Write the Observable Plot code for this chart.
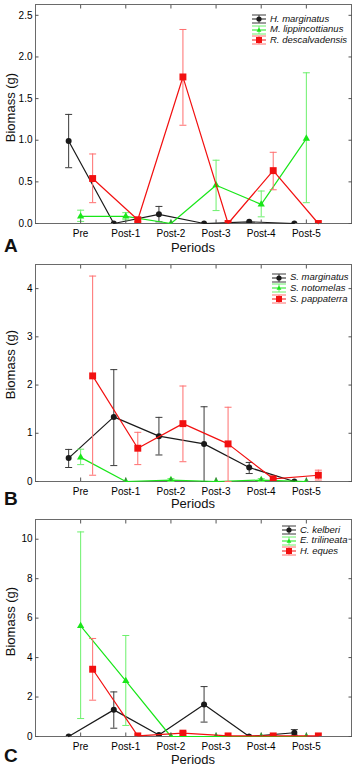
<!DOCTYPE html>
<html>
<head>
<meta charset="utf-8">
<script src="https://cdn.jsdelivr.net/npm/d3@7"></script>
<script src="https://cdn.jsdelivr.net/npm/@observablehq/plot@0.6"></script>
<style>
  html, body { margin: 0; padding: 0; background: #fff; }
  #chart { width: 360px; }
  .panel { position: relative; width: 360px; }
  .panel svg { position: absolute; left: 0; top: 0; }
  .ov { position: absolute; font-family: "Liberation Sans", Arial, sans-serif; color: #111; white-space: nowrap; }
  .letter { font-size: 19px; font-weight: bold; line-height: 19px; }
  .xlab { font-size: 13px; line-height: 13px; text-align: center; }
  .ylab { font-size: 13px; line-height: 13px; text-align: center; width: 200px; transform: rotate(-90deg); transform-origin: 50% 50%; }
  .leg { font-size: 9.5px; font-style: italic; line-height: 10.7px; }
  .leg div { height: 10.7px; display: flex; align-items: center; }
  .leg svg { position: static; margin-right: 4px; }
</style>
</head>
<body>
<div id="chart"></div>
<script>
// ---------- data ----------
const periods = ["Pre", "Post-1", "Post-2", "Post-3", "Post-4", "Post-5"];

// Panel A
const speciesA = ["H. marginatus", "M. lippincottianus", "R. descalvadensis"];
const aHmargMean = [0.99, 0.00, 0.11, 0.00, 0.02, 0.00];
const aHmargLo   = [0.67, null, 0.02, null, null, null];
const aHmargHi   = [1.31, null, 0.205, null, null, null];
const aMlipMean  = [0.085, 0.085, 0.00, 0.46, 0.23, 1.02];
const aMlipLo    = [0.025, 0.045, null, 0.155, 0.08, 0.25];
const aMlipHi    = [0.16, 0.13, null, 0.76, 0.39, 1.81];
const aRdesMean  = [0.54, 0.045, 1.76, 0.00, 0.635, 0.00];
const aRdesLo    = [0.25, 0.02, 1.18, null, 0.405, null];
const aRdesHi    = [0.835, 0.065, 2.33, null, 0.855, null];
const aYTicks = [0, 0.5, 1.0, 1.5, 2.0, 2.5];

// Panel B
const speciesB = ["S. marginatus", "S. notomelas", "S. pappaterra"];
const bSmargMean = [0.485, 1.34, 0.94, 0.78, 0.29, 0.00];
const bSmargLo   = [0.29, 0.33, 0.55, 0.00, 0.165, null];
const bSmargHi   = [0.665, 2.32, 1.33, 1.55, 0.395, null];
const bSnotMean  = [0.50, 0.00, 0.03, 0.00, 0.03, 0.00];
const bSnotLo    = [0.35, null, 0.00, null, 0.00, null];
const bSnotHi    = [0.67, null, 0.06, null, 0.06, null];
const bSpapMean  = [2.19, 0.69, 1.20, 0.78, 0.055, 0.13];
const bSpapLo    = [0.13, 0.35, 0.41, 0.00, null, 0.03];
const bSpapHi    = [4.26, 1.02, 1.98, 1.54, null, 0.235];
const bYTicks = [0, 1, 2, 3, 4];

// Panel C
const speciesC = ["C. kelberi", "E. trilineata", "H. eques"];
const cCkelMean = [0.00, 1.35, 0.08, 1.62, 0.00, 0.19];
const cCkelLo   = [null, 0.42, null, 0.73, null, 0.07];
const cCkelHi   = [null, 2.26, null, 2.53, null, 0.35];
const cEtriMean = [5.61, 2.82, 0.00, 0.00, 0.00, 0.00];
const cEtriLo   = [0.91, 0.56, null, null, null, null];
const cEtriHi   = [10.37, 5.12, null, null, null, null];
const cHeqMean  = [3.41, 0.03, 0.17, 0.03, 0.03, 0.03];
const cHeqLo    = [1.84, null, 0.07, null, null, null];
const cHeqHi    = [4.97, null, 0.25, null, null, null];
const cYTicks = [0, 2, 4, 6, 8, 10];

// ---------- styles ----------
const styles = [
  {color: "#1a1a1a", err: "#3a3a3a", symbol: "circle", r: 3.0, dx: -12},
  {color: "#19e619", err: "#6cf06c", symbol: "triangle", r: 2.7, dx: 0},
  {color: "#f21010", err: "#ff6e6e", symbol: "square", r: 3.9, dx: 12}
];
const cap = {draw(ctx, size) { const r = Math.sqrt(size / Math.PI); ctx.moveTo(-r, 0); ctx.lineTo(r, 0); }};

function legendSymbol(st) {
  const shape = st.symbol === "circle" ? `<circle cx="7" cy="5" r="2.6" fill="${st.color}"/>`
    : st.symbol === "square" ? `<rect x="4" y="2" width="6" height="6" fill="${st.color}"/>`
    : `<path d="M7,2.4L9.4,6.8L4.6,6.8Z" fill="${st.color}"/>`;
  return `<svg width="14" height="10" viewBox="0 0 14 10">
    <line x1="0" x2="14" y1="1" y2="1" stroke="${st.err}" stroke-width="1"/>
    <line x1="0" x2="14" y1="9" y2="9" stroke="${st.err}" stroke-width="1"/>
    <line x1="7" x2="7" y1="1" y2="9" stroke="${st.err}" stroke-width="1"/>
    <line x1="0" x2="14" y1="5" y2="5" stroke="${st.color}" stroke-width="1"/>
    ${shape}</svg>`;
}

function panel(cfg) {
  const wrap = document.createElement("div");
  wrap.className = "panel";
  wrap.style.height = cfg.height + "px";
  const marks = [Plot.frame({stroke: "#6a6a6a"})];
  cfg.series.forEach((s, k) => {
    const st = styles[k];
    const rows = periods.map((p, i) => ({i, mean: s.mean[i], lo: s.lo[i], hi: s.hi[i]}));
    const bars = rows.filter(d => d.lo != null);
    marks.push(
      Plot.ruleX(bars, {x: "i", y1: "lo", y2: "hi", dx: st.dx, stroke: st.err, strokeWidth: 1}),
      Plot.dot(bars, {x: "i", y: "lo", dx: st.dx, symbol: cap, r: 3.5, stroke: st.err, fill: "none", strokeWidth: 1}),
      Plot.dot(bars, {x: "i", y: "hi", dx: st.dx, symbol: cap, r: 3.5, stroke: st.err, fill: "none", strokeWidth: 1}),
      Plot.line(rows, {x: "i", y: "mean", dx: st.dx, stroke: st.color, strokeWidth: 1.2}),
      Plot.dot(rows, {x: "i", y: "mean", dx: st.dx, symbol: st.symbol, r: st.r, fill: st.color, stroke: "none", clip: "frame"})
    );
  });
  const idx = periods.map((p, i) => i);
  marks.push(
    Plot.axisX({ticks: idx, tickFormat: i => periods[i], tickSize: -3.5, tickPadding: 9.5, label: null, stroke: "#555"}),
    Plot.axisX({anchor: "top", ticks: idx, tickFormat: () => "", tickSize: -3.5, label: null, stroke: "#555"}),
    Plot.axisY({ticks: cfg.yTicks, tickFormat: cfg.yFormat, tickSize: -3.5, tickPadding: 6.5, label: null, stroke: "#555"}),
    Plot.axisY({anchor: "right", ticks: cfg.yTicks, tickFormat: () => "", tickSize: -3.5, label: null, stroke: "#555"})
  );
  const svg = Plot.plot({
    width: 360, height: cfg.height,
    marginLeft: 35, marginRight: 9, marginTop: cfg.marginTop, marginBottom: cfg.marginBottom,
    x: {domain: [-1, 6], axis: null},
    y: {domain: cfg.yDomain, axis: null},
    style: {fontFamily: '"Liberation Sans Narrow", "Liberation Sans", Arial, sans-serif', fontSize: "10px", color: "#000", background: "transparent"},
    marks
  });
  wrap.appendChild(svg);
  const frameBottom = cfg.height - cfg.marginBottom;
  const L = document.createElement("div");
  L.className = "ov letter"; L.textContent = cfg.letter;
  L.style.left = "4px"; L.style.top = (frameBottom + cfg.letterDy) + "px";
  wrap.appendChild(L);
  const X = document.createElement("div");
  X.className = "ov xlab"; X.textContent = "Periods";
  X.style.left = "35px"; X.style.width = "316px"; X.style.top = (frameBottom + cfg.xlabDy) + "px";
  wrap.appendChild(X);
  const Y = document.createElement("div");
  Y.className = "ov ylab"; Y.textContent = "Biomass (g)";
  Y.style.left = (9.5 - 100) + "px"; Y.style.top = (cfg.ylabMid - 6.5) + "px";
  wrap.appendChild(Y);
  const G = document.createElement("div");
  G.className = "ov leg";
  G.style.left = cfg.legLeft + "px"; G.style.top = cfg.legTop + "px";
  G.innerHTML = cfg.names.map((n, k) => `<div>${legendSymbol(styles[k])}<span>${n}</span></div>`).join("");
  wrap.appendChild(G);
  return wrap;
}

const chart = document.getElementById("chart");
chart.appendChild(panel({
  height: 255, marginTop: 4, marginBottom: 32, yDomain: [0, 2.63], yTicks: aYTicks, yFormat: d3.format(".1f"),
  letter: "A", letterDy: 13, xlabDy: 18, ylabMid: 107, legLeft: 252, legTop: 13.6, names: speciesA,
  series: [
    {mean: aHmargMean, lo: aHmargLo, hi: aHmargHi},
    {mean: aMlipMean, lo: aMlipLo, hi: aMlipHi},
    {mean: aRdesMean, lo: aRdesLo, hi: aRdesHi}
  ]
}));
chart.appendChild(panel({
  height: 255, marginTop: 9, marginBottom: 29, yDomain: [0, 4.5], yTicks: bYTicks, yFormat: d3.format("d"),
  letter: "B", letterDy: 8, xlabDy: 16, ylabMid: 109, legLeft: 272, legTop: 17.3, names: speciesB,
  series: [
    {mean: bSmargMean, lo: bSmargLo, hi: bSmargHi},
    {mean: bSnotMean, lo: bSnotLo, hi: bSnotHi},
    {mean: bSpapMean, lo: bSpapLo, hi: bSpapHi}
  ]
}));
chart.appendChild(panel({
  height: 261, marginTop: 9, marginBottom: 35, yDomain: [0, 11], yTicks: cYTicks, yFormat: d3.format("d"),
  letter: "C", letterDy: 10, xlabDy: 17, ylabMid: 111, legLeft: 282, legTop: 14.6, names: speciesC,
  series: [
    {mean: cCkelMean, lo: cCkelLo, hi: cCkelHi},
    {mean: cEtriMean, lo: cEtriLo, hi: cEtriHi},
    {mean: cHeqMean, lo: cHeqLo, hi: cHeqHi}
  ]
}));
</script>
</body>
</html>
